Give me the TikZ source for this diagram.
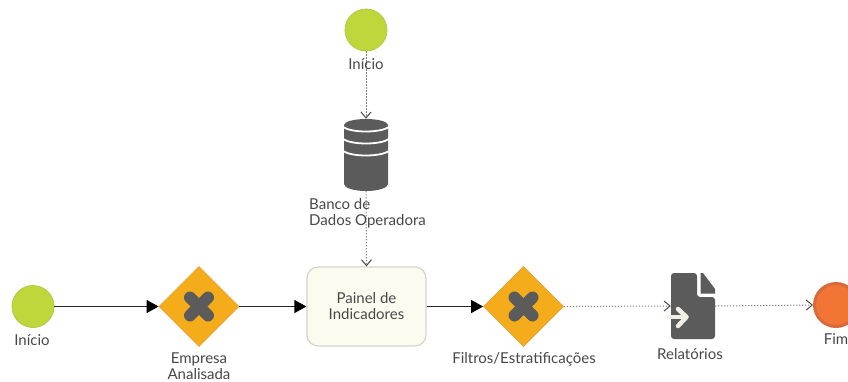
\documentclass[tikz,border=0pt]{standalone}
\usepackage{fontspec}
\setmainfont{Lato}
\usetikzlibrary{arrows.meta,shapes.geometric}
\definecolor{startgreen}{HTML}{BFD73A}
\definecolor{startedge}{HTML}{B2C94A}
\definecolor{gateorange}{HTML}{F4AC1B}
\definecolor{gateedge}{HTML}{E8A13A}
\definecolor{darkgrey}{HTML}{5B5B5B}
\definecolor{txtgrey}{HTML}{484848}
\definecolor{boxfill}{HTML}{FCFBF0}
\definecolor{boxedge}{HTML}{D5D5CA}
\definecolor{endfill}{HTML}{F27536}
\definecolor{endedge}{HTML}{D8693A}
\definecolor{dotgrey}{HTML}{808080}
\definecolor{offwhite}{HTML}{F2F0E6}
\tikzset{
  startev/.style={circle,draw=startedge,line width=0.8pt,fill=startgreen,minimum size=42pt,inner sep=0pt},
  endev/.style={circle,draw=endedge,line width=3pt,fill=endfill,minimum size=43pt,inner sep=0pt},
  gate/.style={diamond,aspect=1,draw=gateedge,line width=0.8pt,fill=gateorange,minimum size=80pt,inner sep=0pt},
  gatex/.style={darkgrey,line width=12pt,line cap=round},
  panel/.style={rectangle,rounded corners=11pt,draw=boxedge,line width=1.2pt,fill=boxfill,minimum width=119pt,minimum height=79pt,inner sep=0pt,align=center,text=txtgrey,font=\fontsize{15}{16}\selectfont},
  lab/.style={text=txtgrey,font=\fontsize{15}{16}\selectfont,align=center,inner sep=0pt},
  labl/.style={lab,align=left},
  flow/.style={draw=black!85,line width=1.3pt,-{Triangle[length=12pt,width=13pt,black]}},
  msg/.style={draw=dotgrey,line width=1pt,dash pattern=on 1.2pt off 1.8pt,-{Straight Barb[length=6pt,width=10pt,line width=1pt,black!70]}},
  holder/.style={rectangle,inner sep=0pt,draw=none}
}
\begin{document}
\begin{tikzpicture}[x=1pt,y=-1pt]
\useasboundingbox (0,0) rectangle (848,381);
\clip (0,0) rectangle (848,381);
\fill[white] (0,0) rectangle (848,381);

% named anchors of all shapes
\node[startev] (s1) at (366,30) {};
\node[holder,minimum width=44pt,minimum height=72pt] (db) at (366,155) {};
\node[panel] (painel) at (366.5,306.5) {Painel de\\Indicadores};
\node[startev] (s2) at (33,306.5) {};
\node[gate] (g1) at (199,306.5) {};
\node[gate] (g2) at (523.5,306.5) {};
\node[holder,minimum width=44pt,minimum height=66pt] (doc) at (693,306) {};
\node[endev] (fim) at (836,305) {};

% connectors
\draw[msg] (s1.south) -- (db.north);
\draw[msg] (db.south) -- (painel.north);
\draw[flow] (s2.east) -- (g1.west);
\draw[flow] (g1.east) -- (painel.west);
\draw[flow] (painel.east) -- (g2.west);
\draw[msg] (g2.east) -- (doc.west);
\draw[msg] (doc.east) -- (fim.west);

% database cylinder
\fill[darkgrey] (344,125) arc[start angle=180,end angle=360,x radius=22,y radius=6]
  -- (388,184) arc[start angle=0,end angle=180,x radius=22,y radius=7] -- cycle;
\foreach \yy in {127,139,151}{
  \draw[white,line width=1.8pt] (343,\yy) .. controls (352,{\yy+6}) and (380,{\yy+6}) .. (389,\yy);
}

% gateway crosses
\foreach \cx in {199,523.5}{
  \draw[gatex] (\cx-9,297.5) -- (\cx+9,315.5);
  \draw[gatex] (\cx+9,297.5) -- (\cx-9,315.5);
}

% report document
\fill[darkgrey,rounded corners=3pt] (671,273) -- (697,273) -- (697,297) -- (715,297) -- (715,339) -- (671,339) -- cycle;
\fill[darkgrey] (700.5,273) -- (703,273) -- (715,289) -- (715,293.5) -- (700.5,293.5) -- cycle;
\draw[offwhite,line width=4.5pt,line cap=round,line join=round] (668,317) -- (686,317);
\draw[offwhite,line width=4.5pt,line cap=round,line join=round] (678,309) -- (686.5,317) -- (678,326);

% labels
\node[lab] (l1) at (366,64) {Início};
\node[labl,anchor=north west] (l2) at (309,198) {Banco de\\Dados Operadora};
\node[lab] (l3) at (32,340) {Início};
\node[lab] (l4) at (199,366) {Empresa\\Analisada};
\node[lab] (l5) at (524,359) {Filtros/Estratificações};
\node[lab] (l6) at (690,354) {Relatórios};
\node[lab] (l7) at (836,339) {Fim};
\end{tikzpicture}
\end{document}
